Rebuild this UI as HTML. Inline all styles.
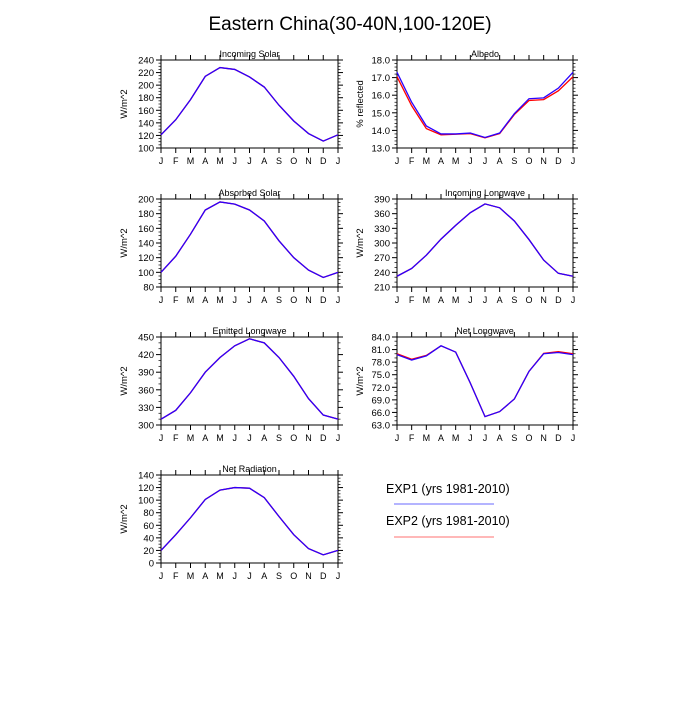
<!DOCTYPE html>
<html><head><meta charset="utf-8"><style>
body{margin:0;background:#fff;}
svg text{font-family:"Liberation Sans",sans-serif;fill:#000;}
</style></head><body>
<svg id="c" width="700" height="700" xmlns="http://www.w3.org/2000/svg">
<text x="350" y="30" font-size="19" text-anchor="middle">Eastern China(30-40N,100-120E)</text>
<g>
<text x="386" y="493" font-size="12.5">EXP1 (yrs 1981-2010)</text>
<line x1="394" y1="504" x2="494" y2="504" stroke="#6a6aff" stroke-width="1"/>
<text x="386" y="525" font-size="12.5">EXP2 (yrs 1981-2010)</text>
<line x1="394" y1="537" x2="494" y2="537" stroke="#ff7070" stroke-width="1"/>
</g>
</svg>
<script>
const months=["J","F","M","A","M","J","J","A","S","O","N","D","J"];
const solarExp1=[121,145,177,214,228,225,213,197,168,143,123,111,121];
const solarExp2=[121,145,177,214,228,225,213,197,168,143,123,111,121];
const albedoExp1=[17.3,15.6,14.25,13.8,13.8,13.85,13.6,13.85,14.95,15.8,15.85,16.4,17.3];
const albedoExp2=[17.05,15.4,14.1,13.75,13.78,13.82,13.58,13.82,14.9,15.7,15.75,16.25,17.05];
const absorbedExp1=[100,122,152,185,196,193,185,170,143,120,103,93,100];
const absorbedExp2=[100,122,152,185,196,193,185,170,143,120,103,93,100];
const inLwExp1=[232,248,275,308,336,362,380,372,345,307,265,238,232];
const inLwExp2=[232,248,275,308,336,362,380,372,345,307,265,238,232];
const emLwExp1=[310,325,355,390,415,435,447,440,415,383,345,317,310];
const emLwExp2=[310,325,355,390,415,435,447,440,415,383,345,317,310];
const netLwExp1=[79.8,78.5,79.5,81.9,80.4,73,65,66.2,69.2,75.8,80,80.3,79.8];
const netLwExp2=[80.0,78.7,79.6,81.9,80.4,73,65,66.2,69.2,75.8,80.1,80.5,80.0];
const netRadExp1=[20,45,72,101,116,120,119,104,74,45,23,13,20];
const netRadExp2=[20,45,72,101,116,120,119,104,74,45,23,13,20];
const solarTicks=[100,120,140,160,180,200,220,240];
const albedoTicks=[13,14,15,16,17,18];
const absorbedTicks=[80,100,120,140,160,180,200];
const inLwTicks=[210,240,270,300,330,360,390];
const emLwTicks=[300,330,360,390,420,450];
const netLwTicks=[63,66,69,72,75,78,81,84];
const netRadTicks=[0,20,40,60,80,100,120,140];

const svg=document.getElementById('c');
const NS="http://www.w3.org/2000/svg";
function mk(tag,at,parent){const e=document.createElementNS(NS,tag);for(const k in at)e.setAttribute(k,at[k]);parent.appendChild(e);return e;}

function panel(name,title,ylab,x0,x1,y0,y1,ticks,dec,minorN,s1,s2){
  const g=mk('g',{},svg);
  
  
  const lo=ticks[0],hi=ticks[ticks.length-1];
  const X=i=>x0+(x1-x0)*i/(months.length-1);
  const Y=v=>y1-(y1-y0)*(v-lo)/(hi-lo);
  const fr=mk('rect',{x:x0,y:y0,width:x1-x0,height:y1-y0,fill:'none',stroke:'#000','stroke-width':1},g);
  
  
  const t=mk('text',{x:(x0+x1)/2,y:y0-3,'font-size':9,'text-anchor':'middle'},g);t.textContent=title;
  
  
  months.forEach((m,i)=>{
    const x=X(i);
    mk('line',{x1:x,y1:y1,x2:x,y2:y1+5,stroke:'#000'},g);
    mk('line',{x1:x,y1:y0,x2:x,y2:y0-5,stroke:'#000'},g);
    const l=mk('text',{x:x,y:y1+16,'font-size':9,'text-anchor':'middle'},g);l.textContent=m;
    
    
  });
  ticks.forEach((v,i)=>{
    const y=Y(v);
    mk('line',{x1:x0,y1:y,x2:x0-5,y2:y,stroke:'#000'},g);
    mk('line',{x1:x1,y1:y,x2:x1+5,y2:y,stroke:'#000'},g);
    const l=mk('text',{x:x0-7,y:y+3.5,'font-size':9.5,'text-anchor':'end'},g);l.textContent=v.toFixed(dec);
    
    
    if(i<ticks.length-1){for(let k=1;k<minorN;k++){const vv=v+(ticks[i+1]-v)*k/minorN;const yy=Y(vv);
      mk('line',{x1:x0,y1:yy,x2:x0-2.5,y2:yy,stroke:'#000','stroke-width':0.7},g);
      mk('line',{x1:x1,y1:yy,x2:x1+2.5,y2:yy,stroke:'#000','stroke-width':0.7},g);}}
  });
  const yl=mk('text',{x:0,y:0,'font-size':9.5,'text-anchor':'middle',transform:`translate(${x0-34},${(y0+y1)/2}) rotate(-90)`},g);yl.textContent=ylab;
  
  
  const p2=mk('polyline',{points:s2.map((v,i)=>X(i)+','+Y(v)).join(' '),fill:'none',stroke:'#ff0000','stroke-width':1.3},g);
  
  
  const p1=mk('polyline',{points:s1.map((v,i)=>X(i)+','+Y(v)).join(' '),fill:'none',stroke:'#2a00ff','stroke-width':1.3},g);
  
  
}
const L0=161,L1=338,R0=397,R1=573;
panel('incoming-solar','Incoming Solar','W/m^2',L0,L1,60,148,solarTicks,0,4,solarExp1,solarExp2);
panel('albedo','Albedo','% reflected',R0,R1,60,148,albedoTicks,1,5,albedoExp1,albedoExp2);
panel('absorbed-solar','Absorbed Solar','W/m^2',L0,L1,199,287,absorbedTicks,0,4,absorbedExp1,absorbedExp2);
panel('incoming-longwave','Incoming Longwave','W/m^2',R0,R1,199,287,inLwTicks,0,3,inLwExp1,inLwExp2);
panel('emitted-longwave','Emitted Longwave','W/m^2',L0,L1,337,425,emLwTicks,0,3,emLwExp1,emLwExp2);
panel('net-longwave','Net Longwave','W/m^2',R0,R1,337,425,netLwTicks,1,3,netLwExp1,netLwExp2);
panel('net-radiation','Net Radiation','W/m^2',L0,L1,475,563,netRadTicks,0,4,netRadExp1,netRadExp2);
</script>
</body></html>
